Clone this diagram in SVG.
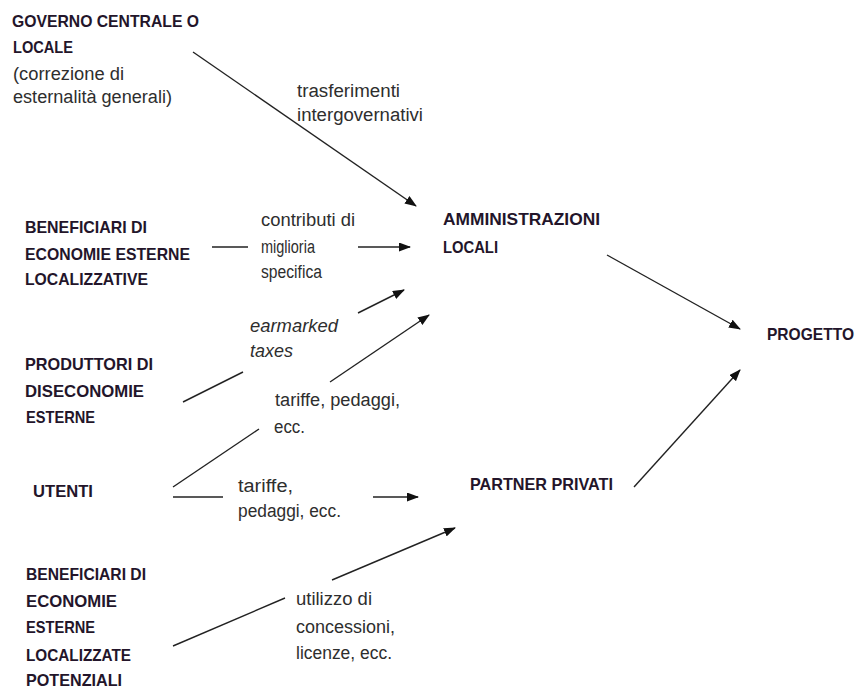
<svg xmlns="http://www.w3.org/2000/svg" width="858" height="689" viewBox="0 0 858 689">
<style>
.b{font-family:"Liberation Sans",Arial,sans-serif;font-weight:bold;font-size:16.5px;fill:#23152a}
.t{font-family:"Liberation Sans",Arial,sans-serif;font-size:18px;fill:#2e2e2e}
.i{font-style:italic}
.c line{stroke:#222;stroke-width:1.4;fill:none}
.c line.a{marker-end:url(#ah)}
</style>
<defs>
<marker id="ah" markerUnits="userSpaceOnUse" markerWidth="12" markerHeight="9" refX="11" refY="4.5" orient="auto">
<path d="M0,0 L12,4.5 L0,9 z" fill="#111"/>
</marker>
</defs>
<rect width="858" height="689" fill="#fff"/>
<g id="governo">
<text class="b" x="12" y="27" textLength="187" lengthAdjust="spacingAndGlyphs">GOVERNO CENTRALE O</text>
<text class="b" x="13" y="53" textLength="60" lengthAdjust="spacingAndGlyphs">LOCALE</text>
<text class="t" x="13" y="80" textLength="111" lengthAdjust="spacingAndGlyphs">(correzione di</text>
<text class="t" x="13" y="103" textLength="159" lengthAdjust="spacingAndGlyphs">esternalità generali)</text>
</g>
<g id="beneficiari1">
<text class="b" x="25" y="233" textLength="122" lengthAdjust="spacingAndGlyphs">BENEFICIARI DI</text>
<text class="b" x="25" y="260" textLength="165" lengthAdjust="spacingAndGlyphs">ECONOMIE ESTERNE</text>
<text class="b" x="25" y="285" textLength="123" lengthAdjust="spacingAndGlyphs">LOCALIZZATIVE</text>
</g>
<g id="produttori">
<text class="b" x="25" y="370" textLength="128" lengthAdjust="spacingAndGlyphs">PRODUTTORI DI</text>
<text class="b" x="25" y="397" textLength="119" lengthAdjust="spacingAndGlyphs">DISECONOMIE</text>
<text class="b" x="26" y="423" textLength="69" lengthAdjust="spacingAndGlyphs">ESTERNE</text>
</g>
<g id="utenti">
<text class="b" x="33" y="497" textLength="60" lengthAdjust="spacingAndGlyphs">UTENTI</text>
</g>
<g id="beneficiari2">
<text class="b" x="26" y="580" textLength="120" lengthAdjust="spacingAndGlyphs">BENEFICIARI DI</text>
<text class="b" x="26" y="607" textLength="91" lengthAdjust="spacingAndGlyphs">ECONOMIE</text>
<text class="b" x="26" y="633" textLength="69" lengthAdjust="spacingAndGlyphs">ESTERNE</text>
<text class="b" x="26" y="661" textLength="105" lengthAdjust="spacingAndGlyphs">LOCALIZZATE</text>
<text class="b" x="26" y="686" textLength="96" lengthAdjust="spacingAndGlyphs">POTENZIALI</text>
</g>
<g id="amministrazioni">
<text class="b" x="443" y="225" textLength="157" lengthAdjust="spacingAndGlyphs">AMMINISTRAZIONI</text>
<text class="b" x="443" y="253" textLength="55" lengthAdjust="spacingAndGlyphs">LOCALI</text>
</g>
<g id="partner">
<text class="b" x="470" y="490" textLength="143" lengthAdjust="spacingAndGlyphs">PARTNER PRIVATI</text>
</g>
<g id="progetto">
<text class="b" x="767" y="340" textLength="87" lengthAdjust="spacingAndGlyphs">PROGETTO</text>
</g>
<g id="labels">
<text class="t" x="297" y="97" textLength="103" lengthAdjust="spacingAndGlyphs">trasferimenti</text>
<text class="t" x="297" y="121" textLength="126" lengthAdjust="spacingAndGlyphs">intergovernativi</text>
<text class="t" x="261" y="226" textLength="94" lengthAdjust="spacingAndGlyphs">contributi di</text>
<text class="t" x="261" y="253" textLength="54" lengthAdjust="spacingAndGlyphs">miglioria</text>
<text class="t" x="261" y="278" textLength="61" lengthAdjust="spacingAndGlyphs">specifica</text>
<text class="t i" x="250" y="332" textLength="88" lengthAdjust="spacingAndGlyphs">earmarked</text>
<text class="t i" x="250" y="357" textLength="43" lengthAdjust="spacingAndGlyphs">taxes</text>
<text class="t" x="275" y="406" textLength="125" lengthAdjust="spacingAndGlyphs">tariffe, pedaggi,</text>
<text class="t" x="274" y="433" textLength="31" lengthAdjust="spacingAndGlyphs">ecc.</text>
<text class="t" x="238" y="492" textLength="55" lengthAdjust="spacingAndGlyphs">tariffe,</text>
<text class="t" x="238" y="517" textLength="103" lengthAdjust="spacingAndGlyphs">pedaggi, ecc.</text>
<text class="t" x="296" y="605" textLength="76" lengthAdjust="spacingAndGlyphs">utilizzo di</text>
<text class="t" x="296" y="633" textLength="99" lengthAdjust="spacingAndGlyphs">concessioni,</text>
<text class="t" x="296" y="659" textLength="96" lengthAdjust="spacingAndGlyphs">licenze, ecc.</text>
</g>
<g id="connectors" class="c">
<line class="a" x1="193" y1="52" x2="416" y2="206"/>
<line x1="212" y1="247" x2="248" y2="247"/>
<line class="a" x1="358" y1="247" x2="410" y2="247"/>
<line class="a" x1="358" y1="313" x2="404" y2="290"/>
<line x1="183" y1="402" x2="243" y2="372"/>
<line class="a" x1="330" y1="382" x2="429" y2="315"/>
<line x1="173" y1="487" x2="259" y2="429"/>
<line x1="173" y1="497" x2="223" y2="497"/>
<line class="a" x1="373" y1="497" x2="418" y2="497"/>
<line class="a" x1="332" y1="580" x2="455" y2="528"/>
<line x1="173" y1="646" x2="285" y2="598"/>
<line class="a" x1="607" y1="255" x2="740" y2="329"/>
<line class="a" x1="634" y1="487" x2="740" y2="370"/>
</g>
</svg>
